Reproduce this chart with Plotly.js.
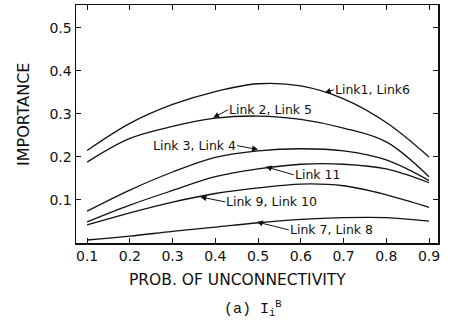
<!DOCTYPE html>
<html>
<head>
<meta charset="utf-8">
<script src="https://cdn.plot.ly/plotly-3.0.1.min.js"></script>
<style>html,body{margin:0;padding:0;background:#fff;}#chart{width:450px;height:333px;}</style>
</head>
<body>
<div id="chart"></div>
<script>
const prob = [0.1, 0.2, 0.3, 0.4, 0.5, 0.6, 0.7, 0.8, 0.9];
const link1_6  = [0.215, 0.278, 0.322, 0.352, 0.370, 0.365, 0.335, 0.280, 0.200];
const link2_5  = [0.188, 0.243, 0.271, 0.290, 0.295, 0.287, 0.267, 0.235, 0.154];
const link3_4  = [0.074, 0.123, 0.165, 0.199, 0.214, 0.219, 0.214, 0.193, 0.145];
const link11   = [0.049, 0.088, 0.122, 0.154, 0.172, 0.183, 0.183, 0.172, 0.140];
const link9_10 = [0.042, 0.070, 0.095, 0.115, 0.128, 0.137, 0.133, 0.112, 0.083];
const link7_8  = [0.007, 0.016, 0.027, 0.037, 0.047, 0.055, 0.059, 0.059, 0.051];
const seriesNames = ['Link1, Link6', 'Link 2, Link 5', 'Link 3, Link 4', 'Link 11', 'Link 9, Link 10', 'Link 7, Link 8'];
const seriesVals = [link1_6, link2_5, link3_4, link11, link9_10, link7_8];
const xTicks = [0.1, 0.2, 0.3, 0.4, 0.5, 0.6, 0.7, 0.8, 0.9];
const xTickText = ['0.1','0.2','0.3','0.4','0.5','0.6','0.7','0.8','0.9'];
const yTicks = [0.1, 0.2, 0.3, 0.4, 0.5];
const yTickText = ['0.1','0.2','0.3','0.4','0.5'];

const traces = seriesVals.map((v, i) => ({
  x: prob, y: v, type: 'scatter', mode: 'lines', name: seriesNames[i],
  line: {color: '#111', width: 1.3, shape: 'spline', smoothing: 1}
}));

// label placement: [x head, y head, ax px, ay px, xanchor]
const labelPos = [
  [0.656, 0.349, 9, -3, 'left'],
  [0.395, 0.291, 15, -8, 'left'],
  [0.5, 0.217, -21, -4, 'right'],
  [0.518, 0.177, 28, 8, 'left'],
  [0.365, 0.107, 25, 5, 'left'],
  [0.497, 0.049, 32, 8, 'left']
];
const font = {family: 'DejaVu Sans, sans-serif', size: 12.5, color: '#111'};
const annotations = seriesNames.map((n, i) => ({
  x: labelPos[i][0], y: labelPos[i][1], xref: 'x', yref: 'y',
  ax: labelPos[i][2], ay: labelPos[i][3], xanchor: labelPos[i][4], yanchor: 'middle',
  text: n, showarrow: true, arrowhead: 2, arrowsize: 1.2, arrowwidth: 1, arrowcolor: '#111',
  standoff: 0, startstandoff: 0, font: font, borderpad: 0
}));
annotations.push({
  xref: 'paper', yref: 'paper', x: 0.445, y: -0.155, xanchor: 'center', yanchor: 'middle',
  text: 'PROB. OF UNCONNECTIVITY', showarrow: false,
  font: {family: 'DejaVu Sans, sans-serif', size: 15.5, color: '#111'}
});
annotations.push({
  xref: 'paper', yref: 'paper', x: -0.145, y: 0.54, xanchor: 'center', yanchor: 'middle',
  text: 'IMPORTANCE', showarrow: false, textangle: -90,
  font: {family: 'DejaVu Sans, sans-serif', size: 16, color: '#111'}
});
annotations.push({
  xref: 'paper', yref: 'paper', x: 0.49, y: -0.275, xanchor: 'center', yanchor: 'middle',
  text: '(a) I<sub>i</sub><sup>B</sup>', showarrow: false,
  font: {family: 'Liberation Mono, monospace', size: 15, color: '#111'}
});

const layout = {
  width: 450, height: 333,
  margin: {l: 76, r: 12, t: 5, b: 90},
  paper_bgcolor: '#fff', plot_bgcolor: '#fff',
  showlegend: false,
  xaxis: {
    range: [0.074, 0.921], tickvals: xTicks, ticktext: xTickText,
    ticks: 'inside', ticklen: 5, tickwidth: 1, tickcolor: '#111',
    showline: true, linewidth: 1.5, linecolor: '#111', mirror: 'ticks',
    showgrid: false, zeroline: false,
    tickfont: {family: 'DejaVu Sans, sans-serif', size: 14, color: '#111'}
  },
  yaxis: {
    range: [0, 0.553], tickvals: yTicks, ticktext: yTickText,
    ticks: 'inside', ticklen: 5, tickwidth: 1, tickcolor: '#111',
    showline: true, linewidth: 1.5, linecolor: '#111', mirror: 'ticks',
    showgrid: false, zeroline: false,
    tickfont: {family: 'DejaVu Sans, sans-serif', size: 14, color: '#111'}
  },
  annotations: annotations
};
Plotly.newPlot('chart', traces, layout, {staticPlot: true, displayModeBar: false});
</script>
</body>
</html>
